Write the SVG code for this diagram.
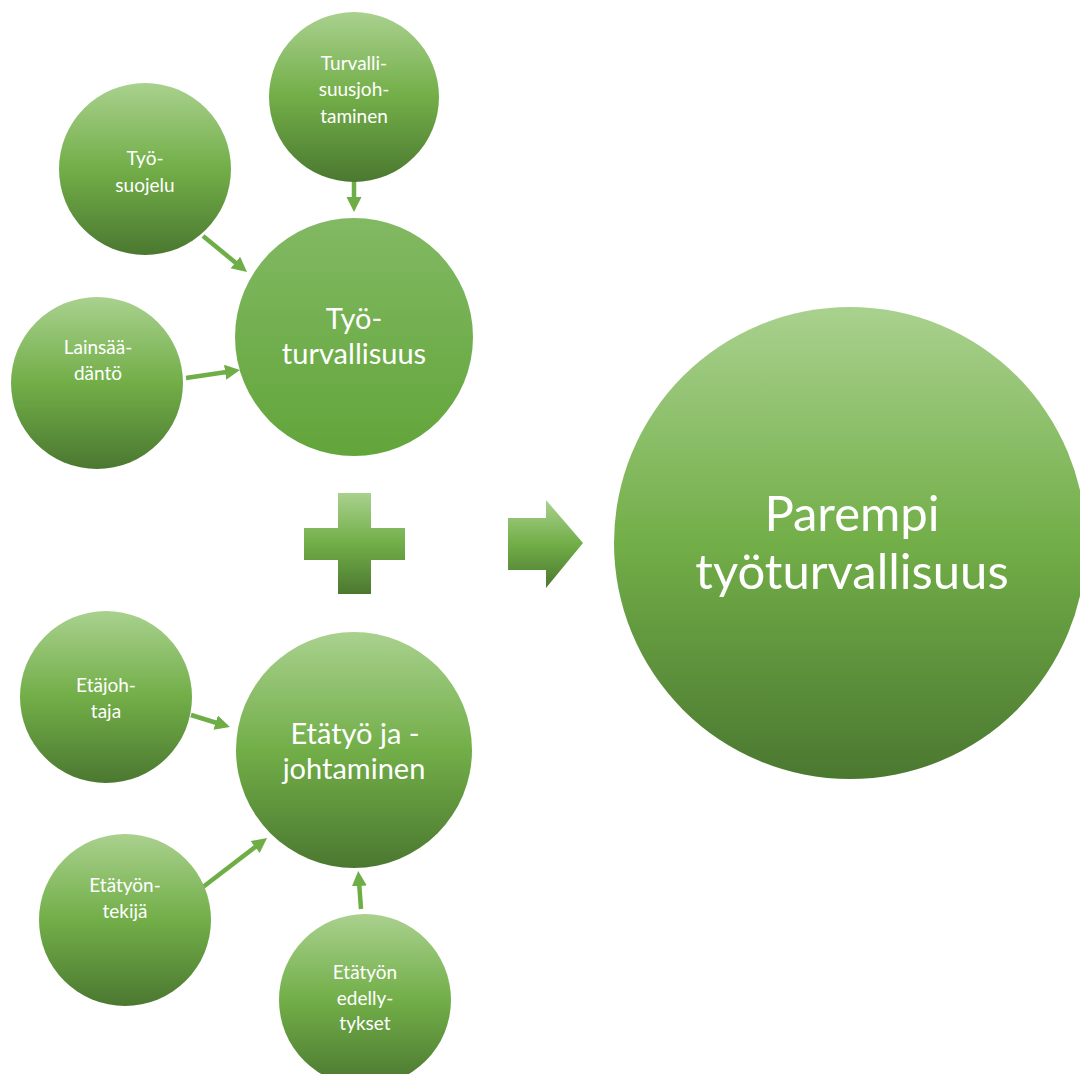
<svg xmlns="http://www.w3.org/2000/svg" width="1080" height="1074" viewBox="0 0 1080 1074">
<style>
text{font-family:Lato,"Liberation Sans",sans-serif;fill:#ffffff;text-anchor:middle}
.s{font-size:19px}
.m{font-size:29px}
.l{font-size:49px}
.c{stroke:#6fad46;stroke-width:4.5;fill:none;marker-end:url(#ah)}
</style>
<defs>
<linearGradient id="g" x1="0" y1="0" x2="0" y2="1">
<stop offset="0" stop-color="#a9d18e"/>
<stop offset="0.5" stop-color="#72ae48"/>
<stop offset="1" stop-color="#4b7830"/>
</linearGradient>
<linearGradient id="g2" x1="0" y1="0" x2="0" y2="1">
<stop offset="0" stop-color="#82b963"/>
<stop offset="1" stop-color="#62a53a"/>
</linearGradient>
<marker id="ah" markerUnits="userSpaceOnUse" markerWidth="16" markerHeight="16" refX="3" refY="7.5" orient="auto">
<path d="M0,0 L15,7.5 L0,15 z" fill="#6fad46"/>
</marker>
</defs>
<rect width="1080" height="1074" fill="#ffffff"/>
<g id="connectors">
<line class="c" x1="354" y1="180" x2="354" y2="200"/>
<line class="c" x1="203" y1="236" x2="237.7" y2="264.4"/>
<line class="c" x1="186" y1="378" x2="228.1" y2="371.8"/>
<line class="c" x1="191" y1="715" x2="218.5" y2="723.5"/>
<line class="c" x1="203" y1="887" x2="257.5" y2="845.3"/>
<line class="c" x1="361" y1="909" x2="359.1" y2="883"/>
</g>
<g id="turvallisuusjohtaminen">
<circle cx="354" cy="97" r="85" fill="url(#g)"/>
<text class="s" x="354" y="70">Turvalli-</text>
<text class="s" x="354" y="96">suusjoh-</text>
<text class="s" x="354" y="123">taminen</text>
</g>
<g id="tyosuojelu">
<circle cx="145" cy="169" r="86" fill="url(#g)"/>
<text class="s" x="145" y="165">Työ-</text>
<text class="s" x="145" y="192">suojelu</text>
</g>
<g id="lainsaadanto">
<circle cx="97" cy="383" r="86" fill="url(#g)"/>
<text class="s" x="98" y="354">Lainsää-</text>
<text class="s" x="98" y="380">däntö</text>
</g>
<g id="tyoturvallisuus">
<circle cx="354" cy="337" r="119" fill="url(#g2)"/>
<text class="m" x="354" y="329">Työ-</text>
<text class="m" x="354" y="364">turvallisuus</text>
</g>
<g id="plus">
<path d="M338,493 H371 V528 H405 V560 H371 V594 H338 V560 H304 V528 H338 Z" fill="url(#g)"/>
</g>
<g id="arrow">
<path d="M508,518 H546 V500 L583,543 L546,588 V570 H508 Z" fill="url(#g)"/>
</g>
<g id="parempi">
<circle cx="850" cy="543" r="236" fill="url(#g)"/>
<text class="l" x="852" y="531">Parempi</text>
<text class="l" x="852" y="589">työturvallisuus</text>
</g>
<g id="etajohtaja">
<circle cx="106" cy="697" r="86" fill="url(#g)"/>
<text class="s" x="106" y="692">Etäjoh-</text>
<text class="s" x="106" y="718">taja</text>
</g>
<g id="etatyo">
<circle cx="354" cy="750" r="118" fill="url(#g)"/>
<text class="m" x="355" y="744">Etätyö ja -</text>
<text class="m" x="354" y="779">johtaminen</text>
</g>
<g id="etatyontekija">
<circle cx="125" cy="920" r="86" fill="url(#g)"/>
<text class="s" x="125" y="892">Etätyön-</text>
<text class="s" x="125" y="918">tekijä</text>
</g>
<g id="edellytykset">
<circle cx="365" cy="1000" r="86" fill="url(#g)"/>
<text class="s" x="365" y="979">Etätyön</text>
<text class="s" x="365" y="1005">edelly-</text>
<text class="s" x="365" y="1030">tykset</text>
</g>
</svg>
